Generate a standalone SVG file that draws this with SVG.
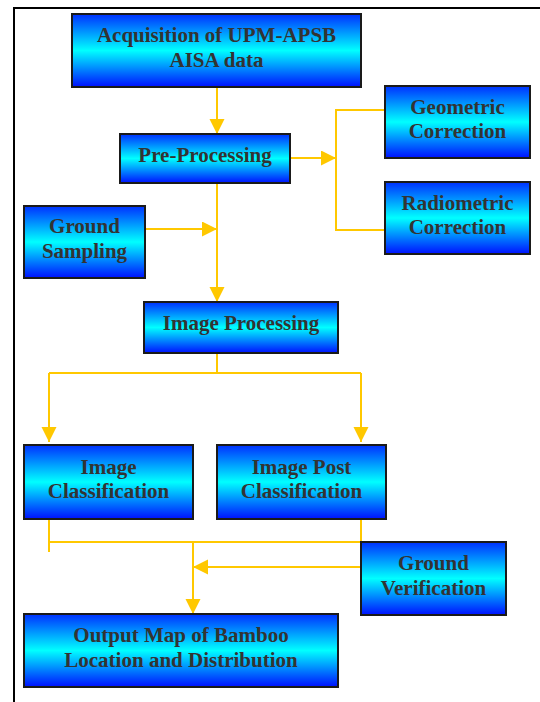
<svg xmlns="http://www.w3.org/2000/svg" width="540" height="702" viewBox="0 0 540 702">
<defs>
<linearGradient id="g" x1="0" y1="0" x2="0" y2="1">
<stop offset="0" stop-color="#0030FF"/>
<stop offset="0.5" stop-color="#00FFFF"/>
<stop offset="1" stop-color="#0010FF"/>
</linearGradient>
<marker id="ah" markerUnits="userSpaceOnUse" markerWidth="16" markerHeight="16" refX="15" refY="7.5" orient="auto">
<path d="M0,0 L15,7.5 L0,15 z" fill="#FFC800"/>
</marker>
<style>
.box{fill:url(#g);stroke:#1a1a1a;stroke-width:2}
.t{font-family:"Liberation Serif","Times New Roman",serif;font-weight:bold;font-size:21px;fill:#333333;text-anchor:middle}
.c{fill:none;stroke:#FFC800;stroke-width:2}
.a{marker-end:url(#ah)}
</style>
</defs>
<rect width="540" height="702" fill="#ffffff"/>
<path d="M14,702 V8 H540" fill="none" stroke="#000" stroke-width="2"/>
<g id="connectors">
<path class="c a" d="M217,87 V134"/>
<path class="c a" d="M290,158 H336"/>
<path class="c" d="M385,110 H336 V230 H385"/>
<path class="c a" d="M217,183 V302"/>
<path class="c a" d="M145,229 H217"/>
<path class="c" d="M217,353 V373 M49,373 H361"/>
<path class="c a" d="M49,373 V442"/>
<path class="c a" d="M361,373 V442"/>
<path class="c" d="M49,519 V552 M49,542 H361 M361,519 V542"/>
<path class="c a" d="M193,542 V614"/>
<path class="c a" d="M361,567 H193"/>
</g>
<g id="acquisition"><rect class="box" x="72" y="14" width="289" height="73"/><text class="t" x="216.5" y="42">Acquisition of UPM-APSB</text><text class="t" x="216.5" y="67">AISA data</text></g>
<g id="preprocessing"><rect class="box" x="120" y="134" width="170" height="49"/><text class="t" x="205" y="162">Pre-Processing</text></g>
<g id="geometric"><rect class="box" x="385" y="86" width="145" height="72"/><text class="t" x="457.5" y="114">Geometric</text><text class="t" x="457.5" y="138">Correction</text></g>
<g id="radiometric"><rect class="box" x="385" y="182" width="145" height="72"/><text class="t" x="457.5" y="210">Radiometric</text><text class="t" x="457.5" y="234">Correction</text></g>
<g id="groundsampling"><rect class="box" x="24" y="206" width="121" height="72"/><text class="t" x="84.5" y="233">Ground</text><text class="t" x="84.5" y="258">Sampling</text></g>
<g id="imageprocessing"><rect class="box" x="144" y="302" width="194" height="51"/><text class="t" x="241" y="330">Image Processing</text></g>
<g id="imageclassification"><rect class="box" x="24" y="445" width="169" height="74"/><text class="t" x="108.5" y="474">Image</text><text class="t" x="108.5" y="498">Classification</text></g>
<g id="imagepost"><rect class="box" x="217" y="445" width="169" height="74"/><text class="t" x="301.5" y="474">Image Post</text><text class="t" x="301.5" y="498">Classification</text></g>
<g id="groundverification"><rect class="box" x="361" y="542" width="145" height="73"/><text class="t" x="433.5" y="570">Ground</text><text class="t" x="433.5" y="595">Verification</text></g>
<g id="output"><rect class="box" x="24" y="614" width="314" height="73"/><text class="t" x="181" y="642">Output Map of Bamboo</text><text class="t" x="181" y="667">Location and Distribution</text></g>
</svg>
